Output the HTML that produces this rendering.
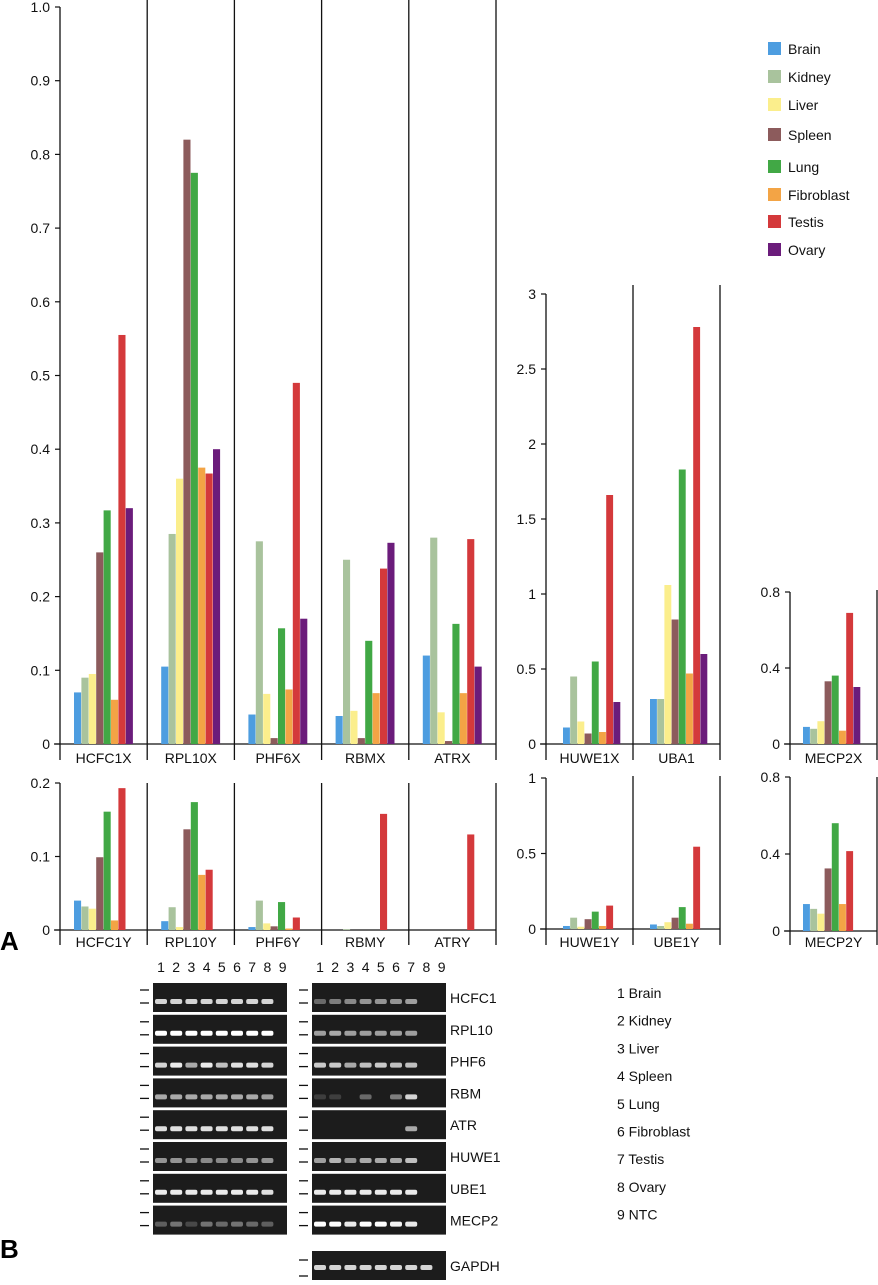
<!DOCTYPE html>
<html><head><meta charset="utf-8">
<style>
body{margin:0;background:#fff;width:878px;height:1280px;overflow:hidden;font-family:"Liberation Sans",Arial,sans-serif}
svg text{font-family:"Liberation Sans",Arial,sans-serif}
</style></head>
<body>
<svg id="fig" width="878" height="1280" viewBox="0 0 878 1280" xmlns="http://www.w3.org/2000/svg"></svg>
<script>
const tissues=["Brain","Kidney","Liver","Spleen","Lung","Fibroblast","Testis","Ovary"];
const colors=["#4d9de0","#a9c39d","#fbee8c","#8c5b5c","#41a845","#f3a445","#d4393b","#6b1c7b"];
const genesX1=["HCFC1X","RPL10X","PHF6X","RBMX","ATRX"];
const valsX1=[[.07,.09,.095,.26,.317,.06,.555,.32],[.105,.285,.36,.82,.775,.375,.367,.40],[.04,.275,.068,.008,.157,.074,.49,.17],[.038,.25,.045,.008,.14,.069,.238,.273],[.12,.28,.043,.004,.163,.069,.278,.105]];
const ticksX1=["0","0.1","0.2","0.3","0.4","0.5","0.6","0.7","0.8","0.9","1.0"];
const genesX2=["HUWE1X","UBA1"];
const valsX2=[[.11,.45,.15,.07,.55,.08,1.66,.28],[.3,.3,1.06,.83,1.83,.47,2.78,.6]];
const ticksX2=["0","0.5","1","1.5","2","2.5","3"];
const genesX3=["MECP2X"];
const valsX3=[[.09,.08,.12,.33,.36,.07,.69,.30]];
const ticksX3=["0","0.4","0.8"];
const genesY1=["HCFC1Y","RPL10Y","PHF6Y","RBMY","ATRY"];
const valsY1=[[.04,.032,.029,.099,.161,.013,.193,0],[.012,.031,.004,.137,.174,.075,.082,0],[.004,.04,.009,.005,.038,.002,.017,0],[0,.001,0,0,0,0,.158,0],[0,0,0,0,0,0,.13,0]];
const ticksY1=["0","0.1","0.2"];
const genesY2=["HUWE1Y","UBE1Y"];
const valsY2=[[.02,.075,.015,.065,.115,.02,.155,0],[.03,.02,.045,.075,.145,.035,.545,0]];
const ticksY2=["0","0.5","1"];
const genesY3=["MECP2Y"];
const valsY3=[[.14,.115,.09,.325,.56,.14,.415,0]];
const ticksY3=["0","0.4","0.8"];
const gelGenes=["HCFC1","RPL10","PHF6","RBM","ATR","HUWE1","UBE1","MECP2"];
const laneNames=["1 Brain","2 Kidney","3 Liver","4 Spleen","5 Lung","6 Fibroblast","7 Testis","8 Ovary","9 NTC"];
// band intensities (0..1) per gene for X gel (left) and Y gel (right)
const gelX=[[.8,.8,.8,.8,.8,.8,.8,.8,0],[1,1,1,1,1,1,1,1,0],[.8,.9,.6,.9,.7,.85,.85,.8,0],[.6,.6,.6,.6,.6,.6,.6,.55,0],[.85,.85,.85,.85,.85,.85,.85,.85,0],[.5,.5,.45,.45,.45,.45,.5,.5,0],[.9,.9,.9,.9,.9,.9,.9,.85,0],[.25,.35,.15,.35,.3,.35,.3,.25,0]];
const gelY=[[.3,.4,.45,.5,.5,.5,.55,0,0],[.55,.6,.55,.55,.55,.55,.55,0,0],[.75,.75,.6,.7,.75,.7,.7,0,0],[.1,.1,0,.3,0,.4,.8,0,0],[0,0,0,0,0,0,.6,0,0],[.55,.65,.5,.6,.6,.6,.7,0,0],[.9,.9,.9,.9,.9,.9,.9,0,0],[1,1,.9,1,1,.95,.9,0,0]];
const gapdh=[.8,.8,.8,.8,.8,.8,.8,.8,0];

const NS="http://www.w3.org/2000/svg";
const svg=document.getElementById('fig');
function mk(tag,attrs,parent){const e=document.createElementNS(NS,tag);for(const k in attrs)e.setAttribute(k,attrs[k]);(parent||svg).appendChild(e);return e;}

function chart(name,axisX,y0,yTop,maxV,ticks,genes,vals,panelW,barOff,barW,lineTop,lineBot,labelY){
  const g=mk('g',{});
  
  
  const sc=v=>y0-(v/maxV)*(y0-yTop);
  const right=axisX+panelW*genes.length;
  const ax=mk('line',{x1:axisX,y1:yTop,x2:axisX,y2:lineBot,stroke:'#111','stroke-width':1.3},g);
  
  const bl=mk('line',{x1:axisX-6,y1:y0,x2:right,y2:y0,stroke:'#111','stroke-width':1.3},g);
  
  ticks.forEach((t,i)=>{
    const v=maxV*i/(ticks.length-1);const y=sc(v);
    mk('line',{x1:axisX-5,y1:y,x2:axisX,y2:y,stroke:'#111','stroke-width':1.2},g);
    const tx=mk('text',{x:axisX-10,y:y+5,'text-anchor':'end','font-size':14,fill:'#111'},g);
    tx.textContent=t;
    
  });
  genes.forEach((gn,p)=>{
    const px=axisX+p*panelW;
    const sep=mk('line',{x1:px+panelW,y1:lineTop,x2:px+panelW,y2:lineBot,stroke:'#111','stroke-width':1.3},g);
    
    vals[p].forEach((v,i)=>{
      if(v<=0)return;
      const y=sc(v);
      const r=mk('rect',{x:px+barOff+i*barW,y:y,width:barW-0.3,height:y0-y,fill:colors[i]},g);
      
      
    });
    const lt=mk('text',{x:px+panelW/2,y:labelY,'text-anchor':'middle','font-size':14,fill:'#111'},g);
    lt.textContent=gn;
    
  });
}
chart('chart-x-group1',60,744,7,1.0,ticksX1,genesX1,valsX1,87.2,14,7.4,0,760,763);
chart('chart-x-group2',546,744,294,3,ticksX2,genesX2,valsX2,87,17,7.2,285,760,763);
chart('chart-x-group3',790,744,592,0.8,ticksX3,genesX3,valsX3,87,13,7.2,590,760,763);
chart('chart-y-group1',60,930,783,0.2,ticksY1,genesY1,valsY1,87.2,14,7.4,783,945,947);
chart('chart-y-group2',546,929,778,1,ticksY2,genesY2,valsY2,87,17,7.2,776,945,947);
chart('chart-y-group3',790,931,777,0.8,ticksY3,genesY3,valsY3,87,13,7.2,777,945,947);

// legend
const lg=mk('g',{});

const legY=[49,77,105,135,167,195,222,250];
tissues.forEach((t,i)=>{
  const r=mk('rect',{x:768,y:legY[i]-7,width:13,height:13,fill:colors[i]},lg);
  
  const tx=mk('text',{x:788,y:legY[i]+5,'font-size':14,fill:'#111'},lg);
  tx.textContent=t;
  
});

// panel letters
const A=mk('text',{x:0,y:950,'font-size':26,'font-weight':'bold',fill:'#000'});A.textContent='A';

const B=mk('text',{x:0,y:1258,'font-size':26,'font-weight':'bold',fill:'#000'});B.textContent='B';


// gels
function gel(name,x0,rows,w){
  const g=mk('g',{});
  
  for(let n=0;n<9;n++){
    const t=mk('text',{x:x0+8+n*15.2,y:972,'text-anchor':'middle','font-size':14,fill:'#111'},g);
    t.textContent=String(n+1);
    
  }
  rows.forEach((row,r)=>{
    const y=983+r*31.8;
    const bg=mk('rect',{x:x0,y:y,width:w,height:29,fill:'#1c1c1c'},g);
    
    mk('line',{x1:x0-13,y1:y+7,x2:x0-4,y2:y+7,stroke:'#111','stroke-width':1.3},g);
    mk('line',{x1:x0-13,y1:y+20,x2:x0-4,y2:y+20,stroke:'#111','stroke-width':1.3},g);
    row.forEach((v,i)=>{
      if(v<=0)return;
      const c=Math.round(40+215*v);
      const b=mk('rect',{x:x0+2+i*15.2,y:y+16,width:12,height:5,rx:2,fill:`rgb(${c},${c},${c})`},g);
      
    });
  });
}
gel('gel-x',153,gelX,134);
gel('gel-y',312,gelY,134);
// GAPDH
const gg=mk('g',{});
mk('rect',{x:312,y:1251,width:134,height:29,fill:'#1c1c1c'},gg);
mk('line',{x1:299,y1:1260,x2:308,y2:1260,stroke:'#111','stroke-width':1.3},gg);
mk('line',{x1:299,y1:1276,x2:308,y2:1276,stroke:'#111','stroke-width':1.3},gg);
gapdh.forEach((v,i)=>{if(v<=0)return;const c=Math.round(40+215*v);
  const b=mk('rect',{x:314+i*15.2,y:1265,width:12,height:5,rx:2,fill:`rgb(${c},${c},${c})`},gg);
  });
// gene labels for gel
gelGenes.concat(["GAPDH"]).forEach((gn,i)=>{
  const y=i<8?983+i*31.8+20:1271;
  const t=mk('text',{x:450,y:y,'font-size':14,fill:'#111'});t.textContent=gn;
  
});
laneNames.forEach((ln,i)=>{
  const t=mk('text',{x:617,y:998+i*27.7,'font-size':14,fill:'#111'});t.textContent=ln;
  
});
</script>
</body></html>
